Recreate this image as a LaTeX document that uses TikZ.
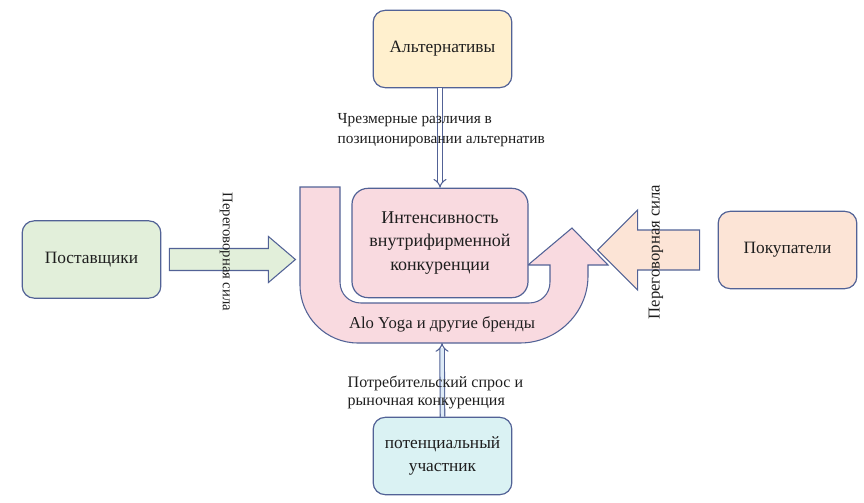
\documentclass[tikz,border=0pt]{standalone}
\usepackage{fontspec}
\setmainfont{Liberation Serif}
\usetikzlibrary{arrows.meta, calc}

\definecolor{edgeblue}{RGB}{82,98,150}
\definecolor{altyellow}{RGB}{255,240,206}
\definecolor{supgreen}{RGB}{226,239,218}
\definecolor{buypeach}{RGB}{252,228,214}
\definecolor{entcyan}{RGB}{218,242,243}
\definecolor{rivalpink}{RGB}{249,218,224}
\definecolor{arrowblue}{RGB}{222,235,247}
\definecolor{txt}{RGB}{30,30,30}

\begin{document}
\begin{tikzpicture}[x=0.75pt, y=-0.75pt,
    every node/.style={text=txt},
    box/.style={draw=edgeblue, line width=0.9pt, rounded corners=9pt,
      minimum width=104pt, minimum height=58pt, align=center,
      font=\fontsize{13}{17}\selectfont},
    blockarr/.style={draw=edgeblue, line width=0.8pt, line join=miter},
    thinarr/.style={draw=edgeblue, line width=0.8pt, double=#1,
      double distance=2.6pt, -{Implies[length=5pt, width=10pt]}},
    thinarr/.default=white,
    note/.style={align=left, anchor=west, font=\fontsize{11.5}{15}\selectfont}
  ]
  \useasboundingbox (0,0) rectangle (864,503);

  % Boxes around the rivalry
  \node[box, fill=altyellow] (alt) at (442.5,49) {Альтернативы};
  \node[box, fill=supgreen] (sup) at (91.5,259.5) {Поставщики};
  \node[box, fill=buypeach] (buy) at (787.5,250) {Покупатели};
  \node[box, fill=entcyan] (ent) at (442.5,456) {потенциальный\\участник};

  % U-turn arrow
  \draw[blockarr, fill=rivalpink] (300,187) -- (300,285)
    .. controls (300,317) and (326,343) .. (358,343) -- (520,343)
    .. controls (557,343) and (588,313) .. (588,276) -- (588,265)
    -- (608,265) -- (572,228) -- (528,265) -- (550,265) -- (550,282)
    .. controls (550,294) and (541,303) .. (529,303) -- (361,303)
    .. controls (349,303) and (340,294) .. (340,282) -- (340,187) -- cycle;
  \node[font=\fontsize{12.5}{15}\selectfont] (brands) at (442,324) {Alo Yoga и другие бренды};
  \coordinate (ubot) at (442,343);

  % Centre
  \node[box, fill=rivalpink, minimum width=132pt, minimum height=82pt,
    rounded corners=12pt, font=\fontsize{13.5}{17.5}\selectfont] (rival) at (440,243)
    {Интенсивность\\внутрифирменной\\конкуренции};

  % Bargaining arrows
  \draw[blockarr, fill=supgreen] ($(sup.east)+(8,-11)$) -- ++(99,0) -- ++(0,-12)
    -- ++(27,23) -- ++(-27,23) -- ++(0,-12) -- ++(-99,0) -- cycle;
  \draw[blockarr, fill=buypeach] ($(buy.west)+(-18,-20)$) -- ++(-62,0) -- ++(0,-20)
    -- ++(-40,40) -- ++(40,40) -- ++(0,-20) -- ++(62,0) -- cycle;
  \node[rotate=-90, font=\fontsize{11}{13}\selectfont] (powerL) at (226,252) {Переговорная сила};
  \node[rotate=90, font=\fontsize{12.5}{15}\selectfont] (powerR) at (656,252) {Переговорная сила};

  % Vertical influences
  \draw[thinarr] (alt.south -| rival.north) -- (rival.north);
  \draw[thinarr=arrowblue] (ent.north) -- (ubot);

  % Notes
  \node[note] (diffs) at (333,130) {Чрезмерные различия в\\позиционировании альтернатив};
  \node[note, font=\fontsize{12}{13.5}\selectfont] (demand) at (343,392)
    {Потребительский спрос и\\рыночная конкуренция};
\end{tikzpicture}
\end{document}
